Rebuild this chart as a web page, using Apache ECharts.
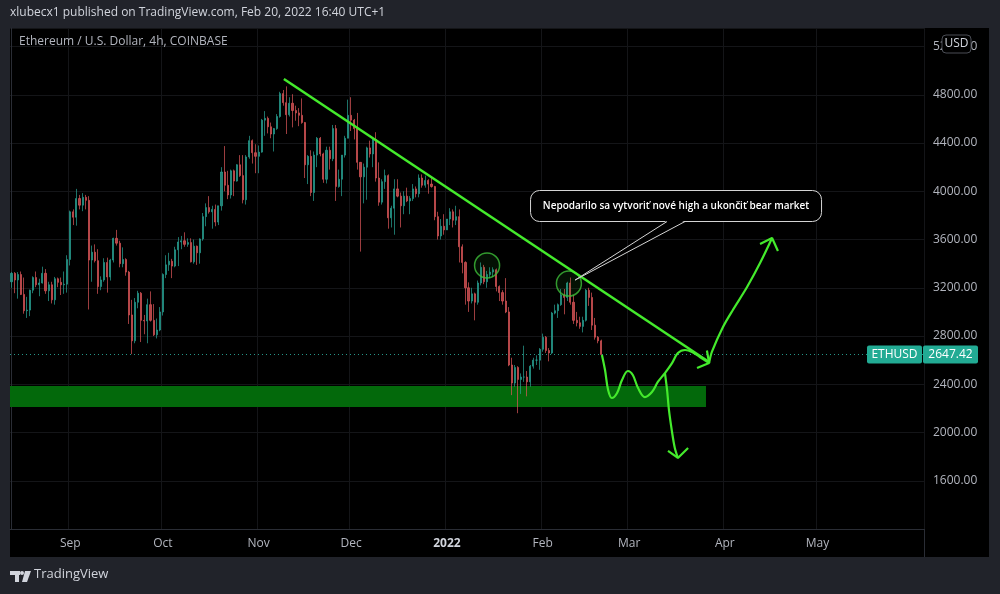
<!DOCTYPE html>
<html><head><meta charset="utf-8">
<script src="https://cdn.jsdelivr.net/npm/echarts@6/dist/echarts.min.js"></script>
<style>html,body{margin:0;padding:0;background:#21232a;}#c{width:1000px;height:594px;}</style>
</head><body><div id="c"></div><script>
// ---------- DATA ----------
// daily candles [open, high, low, close]
const aug = [[3250,3330,3200,3320],[3320,3330,3155,3265],[3265,3330,3110,3310],[3310,3335,3140,3145],[3145,3285,2985,3010],[3010,3125,2950,3015],[3015,3185,2965,3180],[3180,3295,3155,3285],[3285,3335,3205,3225],[3225,3275,3130,3240],[3240,3375,3235,3320],[3320,3355,3150,3175],[3175,3250,3090,3225],[3225,3250,3070,3100],[3100,3290,3060,3275],[3275,3285,3205,3245],[3245,3285,3140,3225],[3225,3335,3150,3230],[3230,3470,3160,3435]];
const sep = [[3435,3840,3385,3830],[3830,3850,3720,3785],[3785,4020,3715,3940],[3940,3970,3850,3885],[3885,3985,3835,3950],[3950,3970,3850,3925],[3925,3960,3020,3430],[3430,3550,3250,3495],[3495,3560,3410,3425],[3425,3520,3150,3210],[3210,3295,3180,3265],[3265,3445,3250,3410],[3410,3450,3160,3290],[3290,3440,3260,3430],[3430,3615,3410,3610],[3610,3680,3550,3570],[3570,3590,3370,3400],[3400,3535,3370,3435],[3435,3445,3300,3330],[3330,3340,2900,2975],[2975,3100,2650,2760],[2760,3115,2740,3080],[3080,3175,3030,3155],[3155,3165,2750,2930],[2930,2975,2815,2925],[2925,3110,2740,3060],[3060,3170,2920,2930],[2930,3065,2800,2810],[2810,2945,2780,2850],[2850,3040,2840,3000]];
const oct = [[3000,3320,2970,3310],[3310,3470,3280,3390],[3390,3490,3340,3420],[3420,3440,3280,3380],[3380,3540,3370,3515],[3515,3620,3380,3580],[3580,3630,3520,3590],[3590,3660,3540,3560],[3560,3610,3540,3575],[3575,3610,3410,3415],[3415,3600,3400,3545],[3545,3550,3390,3490],[3490,3610,3400,3605],[3605,3820,3590,3790],[3790,3900,3710,3865],[3865,3960,3815,3830],[3830,3880,3690,3850],[3850,3890,3710,3745],[3745,3880,3720,3880],[3880,4200,3840,4160],[4160,4375,4000,4050],[4050,4170,3935,3970],[3970,4180,3940,4170],[4170,4180,3960,4085],[4085,4225,4080,4220],[4220,4300,4120,4130],[4130,4300,3900,3930],[3930,4300,3890,4285],[4285,4460,4270,4420],[4420,4430,4230,4320],[4320,4390,4150,4290]];
const nov = [[4290,4380,4150,4325],[4325,4600,4320,4590],[4590,4665,4460,4605],[4605,4620,4480,4535],[4535,4570,4440,4475],[4475,4525,4330,4520],[4520,4640,4510,4620],[4620,4825,4610,4810],[4810,4840,4710,4735],[4735,4870,4475,4635],[4635,4780,4620,4730],[4730,4805,4530,4670],[4670,4710,4585,4650],[4650,4690,4540,4630],[4630,4770,4560,4570],[4570,4575,4110,4220],[4220,4300,4060,4290],[4290,4340,3960,3990],[3990,4330,3920,4300],[4300,4450,4200,4440],[4440,4450,4290,4310],[4310,4320,4070,4100],[4100,4370,4065,4340],[4340,4370,4180,4270],[4270,4550,4250,4520],[4520,4550,3920,4040],[4040,4180,4030,4100],[4100,4300,3960,4300],[4300,4460,4280,4440],[4440,4760,4440,4630]];
const dec = [[4630,4780,4500,4590],[4590,4600,4430,4520],[4520,4650,4180,4240],[4240,4240,3500,4120],[4120,4230,3900,4200],[4200,4370,3930,4360],[4360,4420,4280,4310],[4310,4440,4200,4430],[4430,4490,4080,4110],[4110,4240,3880,3910],[3910,4100,3890,4080],[4080,4180,4020,4130],[4130,4140,3690,3780],[3780,3880,3700,3860],[3860,4100,3640,4020],[4020,4100,3950,3960],[3960,3990,3700,3880],[3880,4000,3810,3960],[3960,4030,3910,3920],[3920,3960,3810,3940],[3940,4060,3920,4020],[4020,4040,3950,3980],[3980,4140,3950,4110],[4110,4140,4030,4050],[4050,4130,4030,4090],[4090,4100,3980,4060],[4060,4125,4030,4040],[4040,4045,3760,3790],[3790,3830,3600,3630],[3630,3770,3600,3710],[3710,3810,3640,3680]];
const jan = [[3680,3770,3680,3770],[3770,3860,3720,3830],[3830,3850,3700,3760],[3760,3880,3720,3790],[3790,3850,3410,3540],[3540,3560,3320,3410],[3410,3420,3060,3200],[3200,3245,3000,3090],[3090,3200,3070,3150],[3150,3160,2930,3080],[3080,3260,3060,3240],[3240,3410,3220,3370],[3370,3390,3230,3250],[3250,3340,3200,3310],[3310,3370,3280,3330],[3330,3370,3290,3350],[3350,3360,3170,3210],[3210,3220,3090,3160],[3160,3180,3060,3090],[3090,3280,2990,3000],[3000,3040,2550,2560],[2560,2620,2310,2410],[2410,2560,2380,2540],[2540,2550,2160,2440],[2440,2490,2320,2460],[2460,2720,2420,2460],[2460,2510,2300,2420],[2420,2560,2380,2550],[2550,2620,2530,2600],[2600,2640,2560,2600],[2600,2700,2520,2690]];
const feb = [[2690,2820,2670,2790],[2790,2800,2660,2680],[2680,2700,2590,2660],[2660,3000,2650,2990],[2990,3060,2980,3010],[3010,3070,2950,3060],[3060,3190,3050,3140],[3140,3190,2980,3120],[3120,3250,3090,3240],[3240,3285,3060,3080],[3080,3140,2900,2930],[2930,3000,2880,2910],[2910,2960,2860,2880],[2880,2960,2830,2930],[2930,3190,2920,3180],[3180,3200,3050,3120],[3120,3160,2850,2890],[2890,2950,2770,2790],[2790,2800,2740,2760],[2760,2770,2640,2647.42]];
const lastPrice = 2647.42;

// axis ticks
const priceTicks = {min: 1200, max: 5354, step: 400};
const monthNames = ['2022','Feb','Mar','Apr','May','Jun','Jul','Aug','Sep','Oct','Nov','Dec'];
const lastMonthLabel = '2022-05-01';

// drawings, in [day index, price]
const trendLine = [[88.2, 4931], [225.9, 2585]];
const zone = {x0: -0.5, x1: 224.9, top: 2386, bottom: 2211};
const circles = [[154.0, 3385], [180.5, 3235]];
const wavePath = [[191.2,2643],[192.2,2518],[193.2,2352],[194.4,2286],[196.1,2328],[197.7,2435],[199.6,2510],[201.2,2477],[202.9,2369],[205.1,2294],[207.4,2336],[209.3,2419],[211.6,2493],[213.9,2576],[215.8,2659],[218.1,2684],[220.4,2668],[222.9,2626],[225.9,2576]];
const upPath = [[225.9,2576],[226.8,2668],[230.4,2875],[233.6,3016],[238.2,3206],[242.4,3405],[246.3,3613]];
const downPath = [[211.6,2493],[212.3,2352],[212.9,2187],[213.9,2004],[214.8,1872],[215.8,1789]];
const arrowHeads = [
  [[222.0,2535],[225.9,2576],[225.2,2680]],
  [[242.4,3563],[246.3,3613],[248.2,3505]],
  [[212.6,1847],[215.8,1789],[219.1,1872]]
];
const callout = {text: 'Nepodarilo sa vytvoriť nové high a ukončiť bear market', tip: [182.5, 3264], box: [215.2, 3878]};

// ---------- BUILD ----------
const categories = [];
{
  const start = Date.UTC(2021, 7, 13);
  for (let i = 0; i < 296; i++) {
    const d = new Date(start + i * 86400000);
    categories.push(d.getUTCFullYear() + '-' + String(d.getUTCMonth() + 1).padStart(2, '0') + '-' + String(d.getUTCDate()).padStart(2, '0'));
  }
}
const candles = [].concat(aug, sep, oct, nov, dec, jan, feb).map(r => [r[0], r[3], r[2], r[1]]);

const FONT = "'Open Sans', 'Liberation Sans', sans-serif";
const GREEN = '#44ea2c';
const isMonthStart = (i, v) => typeof v === 'string' && v.slice(8) === '01' && v <= lastMonthLabel;

const series = [
  { // zone
    type: 'line', xAxisIndex: 1, yAxisIndex: 0, z: 1, silent: true,
    data: [[zone.x0, zone.top]], showSymbol: false, lineStyle: {width: 0},
    markArea: {silent: true, itemStyle: {color: '#03690b', opacity: 1},
      data: [[{xAxis: zone.x0, yAxis: zone.top}, {xAxis: zone.x1, yAxis: zone.bottom}]]}
  },
  {
    type: 'candlestick', xAxisIndex: 0, yAxisIndex: 0, z: 3, data: candles, barWidth: 1.6,
    itemStyle: {color: '#2aa596', color0: '#e0575a', borderColor: '#2aa596', borderColor0: '#e0575a', borderWidth: 0.9, opacity: 0.78},
    markLine: {silent: true, symbol: 'none', label: {show: false},
      lineStyle: {color: '#2aa596', type: [1, 3], width: 1, opacity: 0.9}, data: [{yAxis: lastPrice}]}
  },
  {
    id: 'circ', type: 'scatter', xAxisIndex: 1, yAxisIndex: 0, z: 5, data: circles, symbolSize: 25,
    itemStyle: {color: 'rgba(40,170,40,0.12)', borderColor: '#3fbf3a', borderWidth: 1.5}
  },
  {type: 'line', xAxisIndex: 1, yAxisIndex: 0, z: 6, data: trendLine, showSymbol: false,
    lineStyle: {color: GREEN, width: 2.5}},
  {type: 'line', xAxisIndex: 1, yAxisIndex: 0, z: 6, data: wavePath, showSymbol: false, smooth: 0.35,
    lineStyle: {color: GREEN, width: 2.2}},
  {type: 'line', xAxisIndex: 1, yAxisIndex: 0, z: 6, data: upPath, showSymbol: false, smooth: 0.3,
    lineStyle: {color: GREEN, width: 2.2}},
  {type: 'line', xAxisIndex: 1, yAxisIndex: 0, z: 6, data: downPath, showSymbol: false, smooth: 0.3,
    lineStyle: {color: GREEN, width: 2.2}}
].concat(arrowHeads.map(a => ({type: 'line', xAxisIndex: 1, yAxisIndex: 0, z: 6, data: a, showSymbol: false,
    lineStyle: {color: GREEN, width: 2.2}})));

const chart = echarts.init(document.getElementById('c'));
chart.setOption({
  animation: false,
  backgroundColor: '#21232a',
  textStyle: {fontFamily: FONT},
  grid: {left: 10, right: 76, top: 28, bottom: 65},
  xAxis: [
    {type: 'category', data: categories, boundaryGap: true,
      axisLine: {lineStyle: {color: '#2a2d35'}}, axisTick: {show: false},
      axisLabel: {interval: isMonthStart, color: '#b2b5be', fontSize: 12, margin: 9, fontFamily: FONT,
        formatter: v => { const m = +v.slice(5, 7); return m === 1 ? '{y|' + v.slice(0, 4) + '}' : monthNames[m - 1]; },
        rich: {y: {fontWeight: 'bold', color: '#d1d4dc', fontSize: 12, fontFamily: FONT}}},
      splitLine: {show: true, interval: isMonthStart, lineStyle: {color: '#141518'}}},
    {type: 'value', min: -0.5, max: 295.5, show: false}
  ],
  yAxis: {type: 'value', position: 'right', min: priceTicks.min, max: priceTicks.max, interval: priceTicks.step,
    axisLine: {show: true, lineStyle: {color: '#2a2d35'}}, axisTick: {show: false},
    axisLabel: {formatter: v => v.toFixed(2), color: '#b2b5be', fontSize: 12, margin: 9, showMinLabel: false, showMaxLabel: false, fontFamily: FONT},
    splitLine: {lineStyle: {color: '#141518'}}},
  series: series
});

const toPx = p => chart.convertToPixel({seriesId: 'circ'}, p);
const lp = toPx([0, lastPrice]);
const bc = toPx(callout.box);
const tp = toPx(callout.tip);
const bw = 291, bh = 31;
const b1 = [bc[0] - 9, bc[1] + bh / 2], b2 = [bc[0] + 9, bc[1] + bh / 2];

chart.setOption({
  graphic: [
    {type: 'rect', z: -100, silent: true, shape: {x: 10, y: 28, width: 979, height: 529}, style: {fill: '#000'}},
    {type: 'line', z: 10, silent: true, shape: {x1: 924.5, y1: 529, x2: 924.5, y2: 557}, style: {stroke: '#2a2d35', lineWidth: 1}},
    {type: 'text', z: 10, left: 10, top: 7, style: {text: 'xlubecx1 published on TradingView.com, Feb 20, 2022 16:40 UTC+1', fill: '#d1d4dc', font: '12px ' + FONT}},
    {type: 'text', z: 10, left: 19, top: 36, style: {text: 'Ethereum / U.S. Dollar, 4h, COINBASE', fill: '#b2b5be', font: '12px ' + FONT}},
    {type: 'rect', z: 20, shape: {x: 942, y: 35, width: 29, height: 18, r: 4}, style: {fill: '#000', stroke: '#4a4d55', lineWidth: 1}},
    {type: 'text', z: 21, x: 956.5, y: 44, style: {text: 'USD', fill: '#d1d4dc', font: '12px ' + FONT, align: 'center', verticalAlign: 'middle'}},
    {type: 'rect', z: 20, shape: {x: 867, y: lp[1] - 9, width: 55, height: 18, r: 2}, style: {fill: '#22ab94'}},
    {type: 'text', z: 21, x: 894.5, y: lp[1], style: {text: 'ETHUSD', fill: '#fff', font: '12px ' + FONT, align: 'center', verticalAlign: 'middle'}},
    {type: 'rect', z: 20, shape: {x: 923, y: lp[1] - 9, width: 55, height: 18, r: 2}, style: {fill: '#22ab94'}},
    {type: 'text', z: 21, x: 950.5, y: lp[1], style: {text: lastPrice.toFixed(2), fill: '#fff', font: '12px ' + FONT, align: 'center', verticalAlign: 'middle'}},
    // callout
    {type: 'rect', z: 30, shape: {x: bc[0] - bw / 2, y: bc[1] - bh / 2, width: bw, height: bh, r: 9}, style: {fill: '#000', stroke: '#d4d4d4', lineWidth: 1}},
    {type: 'polygon', z: 31, shape: {points: [[b1[0], b1[1] - 1], tp, [b2[0], b2[1] - 1]]}, style: {fill: '#000'}},
    {type: 'polyline', z: 32, shape: {points: [b1, tp, b2]}, style: {stroke: '#d4d4d4', lineWidth: 1, fill: null}},
    {type: 'text', z: 33, x: bc[0], y: bc[1], style: {text: callout.text, fill: '#ffffff', font: '600 10px ' + FONT, align: 'center', verticalAlign: 'middle'}},
    // footer logo
    {type: 'rect', z: 10, shape: {x: 10, y: 571, width: 10, height: 4}, style: {fill: '#d1d4dc'}},
    {type: 'rect', z: 10, shape: {x: 15, y: 571, width: 4, height: 11}, style: {fill: '#d1d4dc'}},
    {type: 'circle', z: 10, shape: {cx: 22, cy: 573, r: 2}, style: {fill: '#d1d4dc'}},
    {type: 'polygon', z: 10, shape: {points: [[25, 571], [31, 571], [27, 582], [22, 582]]}, style: {fill: '#d1d4dc'}},
    {type: 'text', z: 10, left: 34, top: 568, style: {text: 'TradingView', fill: '#d1d4dc', font: '13px ' + FONT}}
  ]
});
</script></body></html>
